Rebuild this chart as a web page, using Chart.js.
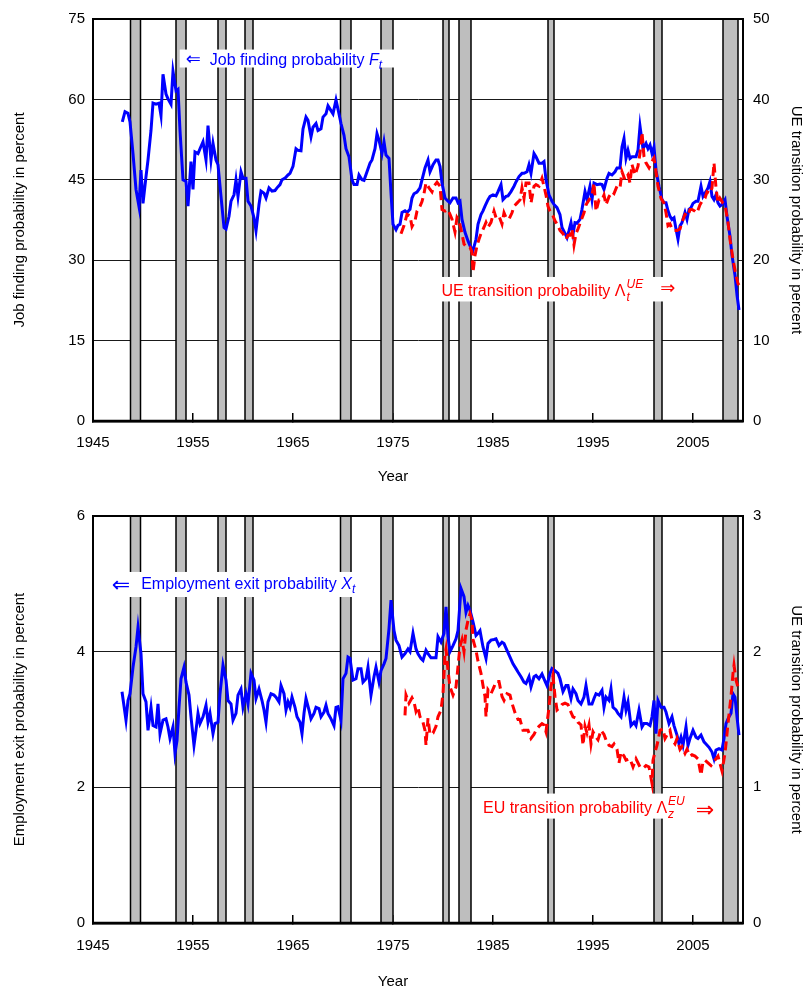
<!DOCTYPE html>
<html>
<head>
<meta charset="utf-8">
<title>Job finding and employment exit probabilities</title>
<script src="https://cdn.jsdelivr.net/npm/chart.js@4.4.1/dist/chart.umd.min.js"></script>
<style>
    html, body { margin: 0; padding: 0; background: #ffffff; }
    canvas { display: block; }
</style>
</head>
<body>
<canvas id="chartJobFinding" width="805" height="496"></canvas>
<canvas id="chartExit" width="805" height="496"></canvas>
<script>
// ========================================
// FLOWS IN AND OUT OF EMPLOYMENT, 1948-2009
// ========================================

// NBER recessions, [start, end] in fractional years
const recessions = [
    [1948.75, 1949.75], [1953.3, 1954.3], [1957.5, 1958.3], [1960.2, 1961.0],
    [1969.75, 1970.8], [1973.8, 1975.0], [1980.0, 1980.6], [1981.6, 1982.8],
    [1990.5, 1991.1], [2001.1, 2001.9], [2008.0, 2009.5]
];

const yearTicks = [1945, 1955, 1965, 1975, 1985, 1995, 2005];

// Job finding probability F_t (percent, left axis)
const jobFinding = [
    [1947.93,55.8],[1948.2,57.7],[1948.5,57.4],[1948.7,55.8],[1949.0,49.9],[1949.3,43.2],[1949.6,40.0],[1949.8,46.8],
    [1950.0,40.6],[1950.3,45.6],[1950.5,48.7],[1950.8,54.2],[1951.0,59.3],[1951.3,59.1],[1951.6,59.3],[1951.8,57.0],
    [1952.0,64.7],[1952.3,61.0],[1952.5,60.1],[1952.8,59.1],[1953.0,65.2],[1953.3,61.6],[1953.5,61.9],[1953.7,54.2],
    [1954.0,45.0],[1954.3,44.7],[1954.5,40.1],[1954.8,48.4],[1955.0,43.2],[1955.2,50.2],[1955.5,49.9],[1955.7,50.8],
    [1956.0,52.1],[1956.3,48.7],[1956.5,55.1],[1956.8,48.7],[1957.0,51.8],[1957.3,48.7],[1957.5,47.8],[1957.8,41.9],
    [1958.1,36.1],[1958.3,35.8],[1958.6,38.2],[1958.8,41.0],[1959.1,42.2],[1959.3,45.0],[1959.5,41.9],[1959.8,46.5],
    [1960.0,45.3],[1960.3,45.3],[1960.5,41.0],[1960.8,40.1],[1961.1,37.9],[1961.3,35.5],[1961.6,40.4],[1961.8,42.9],
    [1962.1,42.5],[1962.3,41.6],[1962.6,43.5],[1962.9,42.9],[1963.2,43.0],[1963.4,43.5],[1963.7,44.1],[1963.9,45.0],
    [1964.2,45.3],[1964.5,45.9],[1964.7,46.2],[1965.0,47.5],[1965.3,50.8],[1965.5,50.5],[1965.8,50.4],[1966.0,54.5],
    [1966.3,56.7],[1966.5,56.1],[1966.8,53.0],[1967.0,54.8],[1967.3,55.5],[1967.5,54.2],[1967.8,54.5],[1968.0,56.7],
    [1968.3,57.3],[1968.5,58.8],[1968.8,57.9],[1969.0,57.3],[1969.3,59.9],[1969.6,57.3],[1969.8,55.5],[1970.1,53.3],
    [1970.3,50.8],[1970.6,49.3],[1970.9,45.0],[1971.1,44.1],[1971.4,44.1],[1971.6,45.9],[1971.9,45.0],[1972.1,44.9],
    [1972.4,46.5],[1972.7,48.1],[1972.9,48.7],[1973.2,50.8],[1973.4,53.6],[1973.6,52.4],[1973.9,49.9],[1974.1,52.1],
    [1974.3,49.6],[1974.6,49.0],[1974.8,42.5],[1975.0,36.7],[1975.3,35.7],[1975.5,36.5],[1975.7,36.7],[1975.9,38.9],
    [1976.2,39.2],[1976.4,38.9],[1976.7,39.5],[1976.9,41.6],[1977.1,42.4],[1977.4,42.7],[1977.7,43.5],[1977.9,45.0],
    [1978.2,47.2],[1978.5,48.7],[1978.7,46.5],[1979.0,47.8],[1979.3,48.7],[1979.5,48.7],[1979.7,47.5],[1979.9,44.4],
    [1980.2,41.6],[1980.5,41.0],[1980.7,40.7],[1981.0,41.6],[1981.3,41.6],[1981.5,40.7],[1981.7,41.0],[1981.9,37.6],
    [1982.2,35.2],[1982.5,33.6],[1982.7,32.7],[1983.0,31.8],[1983.3,33.9],[1983.5,36.7],[1983.8,38.5],[1984.0,39.2],
    [1984.2,40.1],[1984.5,41.3],[1984.7,41.9],[1985.0,42.2],[1985.3,42.0],[1985.5,42.8],[1985.8,44.1],[1986.0,41.3],
    [1986.3,41.9],[1986.5,42.0],[1986.8,42.8],[1987.1,43.8],[1987.3,44.6],[1987.6,45.6],[1987.9,46.2],[1988.1,46.2],
    [1988.4,46.5],[1988.6,47.8],[1988.8,46.2],[1989.1,49.9],[1989.3,49.3],[1989.6,48.1],[1989.9,48.1],[1990.1,48.4],
    [1990.3,45.0],[1990.6,42.2],[1990.9,41.0],[1991.1,40.4],[1991.4,39.8],[1991.7,38.5],[1991.9,36.1],[1992.2,35.0],
    [1992.4,34.2],[1992.6,35.5],[1992.8,37.0],[1993.0,34.9],[1993.2,37.0],[1993.4,36.9],[1993.7,37.6],[1993.9,39.5],
    [1994.2,42.8],[1994.4,41.3],[1994.7,43.8],[1994.9,41.3],[1995.1,44.4],[1995.4,44.1],[1995.7,44.2],[1995.9,44.1],
    [1996.1,43.2],[1996.4,45.3],[1996.6,46.2],[1996.9,45.9],[1997.2,46.5],[1997.4,47.2],[1997.7,47.2],[1997.9,51.1],
    [1998.1,52.7],[1998.3,49.0],[1998.5,50.5],[1998.7,49.0],[1998.9,49.3],[1999.3,49.3],[1999.5,50.5],[1999.7,55.0],
    [2000.0,50.8],[2000.3,51.8],[2000.5,50.8],[2000.7,51.5],[2000.9,49.9],[2001.1,51.1],[2001.3,46.8],[2001.6,43.8],
    [2001.9,41.3],[2002.1,40.7],[2002.3,40.7],[2002.5,39.2],[2002.7,38.2],[2002.9,37.6],[2003.1,37.9],[2003.3,35.8],
    [2003.5,33.9],[2003.7,36.4],[2003.9,37.0],[2004.2,38.9],[2004.4,37.6],[2004.6,39.5],[2004.8,39.8],[2005.0,40.6],
    [2005.3,41.0],[2005.5,41.0],[2005.8,43.8],[2006.0,41.9],[2006.3,42.8],[2006.5,43.5],[2006.7,44.7],[2006.9,41.9],
    [2007.1,41.3],[2007.3,42.2],[2007.5,40.7],[2007.7,40.1],[2007.9,40.4],[2008.2,41.3],[2008.4,38.2],[2008.7,34.5],
    [2008.9,30.9],[2009.2,27.2],[2009.4,23.5],[2009.6,20.7]
];

// UE transition probability (percent, right axis)
const ueTransition = [
    [1975.8,23.3],[1976.1,24.3],[1976.4,25.7],[1976.7,25.5],[1976.9,24.2],[1977.2,24.9],[1977.4,26.1],[1977.7,26.7],
    [1977.9,27.3],[1978.1,28.3],[1978.3,29.6],[1978.6,29.0],[1978.9,28.5],[1979.1,29.2],[1979.4,29.7],[1979.7,29.2],
    [1979.9,26.3],[1980.2,26.1],[1980.5,26.3],[1980.7,25.7],[1980.9,25.1],[1981.2,23.5],[1981.4,25.3],[1981.6,24.9],
    [1981.9,23.3],[1982.1,22.0],[1982.4,21.6],[1982.7,21.6],[1982.9,21.0],[1983.0,18.5],[1983.2,20.6],[1983.4,21.8],
    [1983.6,22.6],[1983.8,23.3],[1984.1,24.1],[1984.3,24.7],[1984.5,24.1],[1984.8,24.7],[1985.1,26.1],[1985.3,25.3],
    [1985.6,25.5],[1985.9,24.5],[1986.1,25.9],[1986.3,25.3],[1986.6,25.1],[1986.9,25.9],[1987.1,26.7],[1987.4,27.1],
    [1987.7,27.5],[1987.9,29.0],[1988.1,27.7],[1988.3,29.6],[1988.6,29.6],[1988.8,27.1],[1989.1,29.2],[1989.3,29.4],
    [1989.6,29.2],[1989.9,30.2],[1990.1,29.2],[1990.3,28.1],[1990.5,26.7],[1990.7,26.1],[1991.0,25.5],[1991.2,24.9],
    [1991.5,24.3],[1991.7,23.7],[1992.0,23.3],[1992.3,22.6],[1992.5,23.1],[1992.7,23.1],[1992.9,23.9],[1993.1,21.9],
    [1993.3,23.3],[1993.5,23.9],[1993.8,24.9],[1994.1,25.9],[1994.3,26.9],[1994.6,27.5],[1994.9,28.1],[1995.1,29.6],
    [1995.3,26.1],[1995.6,27.5],[1995.9,27.5],[1996.1,28.1],[1996.3,26.9],[1996.6,27.9],[1996.9,28.5],[1997.1,28.3],
    [1997.4,29.2],[1997.7,29.0],[1997.9,31.0],[1998.2,30.0],[1998.5,30.6],[1998.7,29.6],[1998.9,31.9],[1999.2,30.6],
    [1999.5,31.7],[1999.7,33.3],[1999.9,35.9],[2000.1,32.9],[2000.3,32.1],[2000.6,31.5],[2000.9,32.3],[2001.1,32.7],
    [2001.3,31.0],[2001.5,29.2],[2001.8,27.7],[2002.1,27.1],[2002.3,25.9],[2002.5,24.3],[2002.7,24.5],[2002.9,23.9],
    [2003.1,23.7],[2003.4,23.7],[2003.7,23.9],[2003.9,24.7],[2004.2,25.7],[2004.5,25.5],[2004.7,26.3],[2004.9,26.3],
    [2005.2,26.1],[2005.4,25.9],[2005.7,26.9],[2005.9,27.3],[2006.2,27.7],[2006.4,28.5],[2006.7,28.3],[2006.9,29.0],
    [2007.1,32.1],[2007.3,29.0],[2007.5,27.1],[2007.7,27.7],[2008.0,27.1],[2008.2,26.9],[2008.5,24.7],[2008.7,22.6],
    [2009.0,20.1],[2009.3,18.1],[2009.5,17.1],[2009.6,16.9]
];

// Employment exit probability X_t (percent, left axis)
const employmentExit = [
    [1947.9,3.41],[1948.3,2.99],[1948.5,3.28],[1948.7,3.38],[1949.0,3.77],[1949.3,4.07],[1949.5,4.36],[1949.8,3.97],
    [1950.0,3.38],[1950.3,3.26],[1950.5,2.84],[1950.8,3.18],[1951.0,2.91],[1951.3,2.89],[1951.5,3.23],[1951.7,2.79],
    [1952.0,2.99],[1952.3,3.01],[1952.5,2.89],[1952.7,2.72],[1953.0,2.89],[1953.2,2.50],[1953.4,2.69],[1953.6,3.18],
    [1953.8,3.60],[1954.1,3.77],[1954.3,3.55],[1954.6,3.36],[1954.8,3.04],[1955.1,2.62],[1955.3,2.84],[1955.5,3.09],
    [1955.7,2.94],[1956.0,3.04],[1956.3,3.21],[1956.5,2.96],[1956.7,3.09],[1957.0,2.79],[1957.2,2.94],[1957.5,2.96],
    [1957.7,3.38],[1958.0,3.80],[1958.3,3.58],[1958.5,3.28],[1958.8,3.23],[1959.0,2.99],[1959.3,3.09],[1959.5,3.36],
    [1959.8,3.45],[1960.0,3.18],[1960.3,3.38],[1960.5,3.23],[1960.8,3.68],[1961.1,3.58],[1961.3,3.31],[1961.6,3.45],
    [1961.9,3.28],[1962.1,3.14],[1962.3,2.96],[1962.5,3.26],[1962.8,3.38],[1963.1,3.36],[1963.3,3.33],[1963.6,3.26],
    [1963.8,3.50],[1964.1,3.38],[1964.3,3.14],[1964.5,3.26],[1964.7,3.18],[1964.9,3.33],[1965.2,3.18],[1965.4,3.04],
    [1965.7,2.96],[1965.9,2.79],[1966.1,3.09],[1966.3,3.31],[1966.6,3.14],[1966.8,3.01],[1967.1,3.09],[1967.3,3.18],
    [1967.6,3.16],[1967.8,3.04],[1968.1,3.11],[1968.3,3.21],[1968.5,3.09],[1968.8,3.01],[1969.1,2.91],[1969.3,3.18],
    [1969.5,3.19],[1969.8,2.99],[1970.0,3.60],[1970.3,3.68],[1970.5,3.92],[1970.7,3.90],[1971.0,3.58],[1971.3,3.60],
    [1971.5,3.75],[1971.8,3.75],[1972.0,3.55],[1972.3,3.60],[1972.5,3.77],[1972.8,3.36],[1973.1,3.63],[1973.3,3.77],
    [1973.6,3.55],[1973.8,3.72],[1974.1,3.82],[1974.3,3.90],[1974.6,4.34],[1974.8,4.76],[1975.1,4.31],[1975.3,4.17],
    [1975.6,4.09],[1975.9,3.92],[1976.2,3.97],[1976.5,4.04],[1976.7,4.00],[1977.0,4.27],[1977.3,4.04],[1977.5,3.97],
    [1977.8,3.90],[1978.0,3.87],[1978.3,4.02],[1978.5,3.97],[1978.8,3.91],[1979.1,3.91],[1979.3,3.91],[1979.5,4.22],
    [1979.8,4.14],[1980.1,4.27],[1980.3,4.66],[1980.5,4.22],[1980.7,4.00],[1981.0,4.09],[1981.3,4.19],[1981.5,4.31],
    [1981.8,4.93],[1982.1,4.81],[1982.3,4.58],[1982.5,4.68],[1982.7,4.61],[1983.0,4.44],[1983.3,4.24],[1983.5,4.27],
    [1983.7,4.31],[1984.0,4.07],[1984.3,3.90],[1984.5,4.12],[1984.8,4.17],[1985.1,4.18],[1985.3,4.19],[1985.6,4.09],
    [1985.9,4.14],[1986.1,4.12],[1986.4,4.02],[1986.7,3.92],[1987.0,3.82],[1987.3,3.75],[1987.5,3.70],[1987.8,3.63],
    [1988.1,3.55],[1988.3,3.53],[1988.6,3.63],[1988.8,3.48],[1989.1,3.63],[1989.3,3.65],[1989.6,3.60],[1989.9,3.67],
    [1990.1,3.60],[1990.4,3.50],[1990.7,3.68],[1990.9,3.75],[1991.2,3.72],[1991.5,3.68],[1991.7,3.60],[1992.0,3.41],
    [1992.3,3.50],[1992.5,3.50],[1992.8,3.31],[1993.0,3.45],[1993.3,3.38],[1993.5,3.28],[1993.8,3.23],[1994.1,3.33],
    [1994.3,3.50],[1994.6,3.23],[1994.9,3.23],[1995.1,3.31],[1995.3,3.38],[1995.6,3.36],[1995.9,3.43],[1996.1,3.18],
    [1996.3,3.33],[1996.6,3.28],[1996.8,3.45],[1997.0,3.18],[1997.3,3.14],[1997.5,3.09],[1997.8,3.04],[1998.1,3.33],
    [1998.3,3.14],[1998.5,3.26],[1998.8,2.91],[1999.1,2.96],[1999.3,2.91],[1999.6,3.14],[1999.9,2.89],[2000.1,2.94],
    [2000.4,2.94],[2000.7,2.91],[2000.9,3.04],[2001.1,3.28],[2001.3,2.79],[2001.5,3.28],[2001.8,3.18],[2002.1,3.18],
    [2002.3,3.11],[2002.6,2.94],[2002.9,3.04],[2003.1,2.91],[2003.4,2.77],[2003.6,2.64],[2003.8,2.74],[2004.0,2.62],
    [2004.3,2.89],[2004.5,2.62],[2004.7,2.72],[2005.0,2.84],[2005.3,2.74],[2005.5,2.72],[2005.8,2.77],[2006.1,2.67],
    [2006.3,2.64],[2006.6,2.59],[2006.9,2.52],[2007.1,2.42],[2007.3,2.55],[2007.6,2.57],[2007.9,2.55],[2008.1,2.72],
    [2008.3,2.94],[2008.5,3.01],[2008.8,3.09],[2009.0,3.38],[2009.2,3.33],[2009.4,3.04],[2009.6,2.77]
];

// EU transition probability (percent, right axis)
const euTransition = [
    [1976.2,1.53],[1976.3,1.68],[1976.6,1.62],[1976.9,1.66],[1977.1,1.63],[1977.3,1.56],[1977.5,1.59],[1977.7,1.52],
    [1978.0,1.48],[1978.2,1.42],[1978.3,1.31],[1978.5,1.51],[1978.7,1.39],[1979.0,1.40],[1979.3,1.45],[1979.5,1.52],
    [1979.8,1.57],[1980.0,1.69],[1980.2,1.98],[1980.3,2.02],[1980.5,1.86],[1980.7,1.74],[1981.0,1.68],[1981.3,1.74],
    [1981.5,1.89],[1981.7,2.04],[1981.9,2.09],[1982.1,2.00],[1982.3,2.16],[1982.5,2.23],[1982.7,2.28],[1982.9,2.23],
    [1983.0,2.09],[1983.3,2.01],[1983.5,1.93],[1983.8,1.84],[1984.0,1.75],[1984.2,1.67],[1984.3,1.52],[1984.5,1.72],
    [1984.8,1.69],[1985.1,1.74],[1985.3,1.78],[1985.6,1.78],[1985.9,1.67],[1986.1,1.64],[1986.4,1.69],[1986.7,1.68],
    [1986.9,1.62],[1987.2,1.55],[1987.5,1.50],[1987.7,1.50],[1988.0,1.42],[1988.3,1.42],[1988.5,1.42],[1988.8,1.36],
    [1989.1,1.39],[1989.3,1.42],[1989.6,1.45],[1989.9,1.47],[1990.1,1.46],[1990.3,1.41],[1990.6,1.59],[1990.8,1.74],
    [1991.0,1.82],[1991.2,1.67],[1991.4,1.57],[1991.7,1.59],[1991.9,1.61],[1992.2,1.62],[1992.5,1.61],[1992.7,1.57],
    [1993.0,1.52],[1993.3,1.51],[1993.5,1.48],[1993.8,1.46],[1994.0,1.31],[1994.2,1.45],[1994.4,1.40],[1994.6,1.46],
    [1994.8,1.32],[1995.0,1.41],[1995.3,1.37],[1995.5,1.35],[1995.8,1.42],[1996.1,1.39],[1996.3,1.35],[1996.6,1.31],
    [1996.9,1.30],[1997.1,1.32],[1997.4,1.28],[1997.6,1.18],[1997.8,1.26],[1998.1,1.23],[1998.3,1.20],[1998.7,1.21],
    [1999.0,1.15],[1999.3,1.21],[1999.7,1.15],[2000.0,1.14],[2000.3,1.16],[2000.6,1.15],[2000.9,1.03],[2001.0,1.20],
    [2001.2,1.26],[2001.4,1.31],[2001.7,1.42],[2002.0,1.43],[2002.2,1.36],[2002.5,1.40],[2002.7,1.42],[2002.9,1.35],
    [2003.2,1.32],[2003.4,1.36],[2003.7,1.28],[2003.9,1.30],[2004.2,1.25],[2004.4,1.28],[2004.7,1.23],[2004.9,1.24],
    [2005.2,1.23],[2005.5,1.21],[2005.8,1.09],[2006.0,1.19],[2006.2,1.20],[2006.5,1.18],[2006.8,1.16],[2007.2,1.20],
    [2007.5,1.23],[2007.9,1.12],[2008.2,1.25],[2008.3,1.32],[2008.5,1.47],[2008.8,1.67],[2009.0,1.84],[2009.1,1.90],
    [2009.3,1.79],[2009.5,1.74]
];

document.addEventListener('DOMContentLoaded', function() {
    'use strict';

    const FONT = '"Liberation Sans", Arial, Helvetica, sans-serif';
    const ARROW_FONT = '"DejaVu Sans", sans-serif';
    const colors = {
        blue: '#0000ff',
        red: '#ff0000',
        shade: '#bebebe',
        ink: '#000000'
    };

    const toPoints = rows => rows.map(([x, y]) => ({ x, y }));

    // Text made of several runs (italic symbols, sub/superscripts, arrows)
    function drawRichText(ctx, x, baseline, parts, color) {
        let cursor = x;
        ctx.fillStyle = color;
        ctx.textAlign = 'left';
        ctx.textBaseline = 'alphabetic';
        parts.forEach(p => {
            const size = p.size || 16;
            const dy = typeof p.dy === 'number' ? p.dy : 0;
            cursor += p.gap || 0;
            ctx.font = `${p.italic ? 'italic ' : ''}${size}px ${p.family || FONT}`;
            ctx.fillText(p.text, cursor, baseline + dy);
            if (!p.keep) cursor += ctx.measureText(p.text).width;
        });
    }

    // --- shading, label boxes, frame ---
    // labels live in the closure so Chart.js does not wrap them in its option resolver
    function makeDecor(labels, yearOffset) {
        return {
            id: 'panelDecor',
            beforeDatasetsDraw(chart) {
                const { ctx, chartArea: a, scales: { x } } = chart;
                ctx.save();
                ctx.beginPath();
                ctx.rect(a.left, a.top, a.width, a.height);
                ctx.clip();
                ctx.fillStyle = colors.shade;
                ctx.strokeStyle = colors.ink;
                ctx.lineWidth = 1.5;
                recessions.forEach(([start, end]) => {
                    const x0 = x.getPixelForValue(start);
                    const x1 = x.getPixelForValue(end);
                    ctx.fillRect(x0, a.top, x1 - x0, a.height);
                    ctx.beginPath();
                    ctx.moveTo(x0, a.top); ctx.lineTo(x0, a.bottom);
                    ctx.moveTo(x1, a.top); ctx.lineTo(x1, a.bottom);
                    ctx.stroke();
                });
                ctx.restore();
            },
            afterDatasetsDraw(chart) {
                const { ctx, chartArea: a, scales: { x, y } } = chart;
                ctx.save();

                labels.forEach(lbl => {
                    const [bx0, bx1, by0, by1] = lbl.box;
                    const left = x.getPixelForValue(bx0);
                    const right = x.getPixelForValue(bx1);
                    const top = y.getPixelForValue(by0);
                    const bottom = y.getPixelForValue(by1);
                    ctx.fillStyle = '#ffffff';
                    ctx.fillRect(left, top, right - left, bottom - top);
                    drawRichText(ctx, x.getPixelForValue(lbl.at[0]), y.getPixelForValue(lbl.at[1]), lbl.parts, lbl.color);
                });

                // plot frame
                ctx.strokeStyle = colors.ink;
                ctx.lineWidth = 2;
                ctx.strokeRect(a.left, a.top, a.width, a.height);
                ctx.lineWidth = 2.5;
                ctx.beginPath();
                ctx.moveTo(a.left - 1, a.bottom);
                ctx.lineTo(a.right + 1, a.bottom);
                ctx.stroke();

                // x axis title
                ctx.fillStyle = colors.ink;
                ctx.font = `15px ${FONT}`;
                ctx.textAlign = 'center';
                ctx.textBaseline = 'middle';
                ctx.fillText('Year', x.getPixelForValue(1975), a.bottom + yearOffset);
                ctx.restore();
            }
        };
    }

    function buildPanel(canvasId, p) {
        const el = document.getElementById(canvasId);
        if (!el) return;

        new Chart(el.getContext('2d'), {
            type: 'line',
            data: {
                datasets: [{
                    label: p.leftName,
                    data: toPoints(p.leftSeries),
                    yAxisID: 'y',
                    borderColor: colors.blue,
                    borderWidth: 3,
                    pointRadius: 0,
                    fill: false,
                    order: 1
                }, {
                    label: p.rightName,
                    data: toPoints(p.rightSeries),
                    yAxisID: 'y1',
                    borderColor: colors.red,
                    borderWidth: 3,
                    borderDash: [9, 5],
                    pointRadius: 0,
                    fill: false,
                    order: 0
                }]
            },
            options: {
                responsive: false,
                animation: false,
                devicePixelRatio: 1,
                layout: { padding: { top: p.padTop, left: 0, right: 0, bottom: 0 } },
                elements: { line: { tension: 0 } },
                plugins: {
                    legend: { display: false },
                    tooltip: { enabled: false }
                },
                scales: {
                    x: {
                        type: 'linear',
                        min: 1945,
                        max: 2010,
                        afterBuildTicks: s => { s.ticks = yearTicks.map(v => ({ value: v })); },
                        afterFit: s => { s.height = p.xHeight; },
                        grid: { drawOnChartArea: false, drawTicks: true, tickLength: -8, color: colors.ink, lineWidth: 1.5 },
                        border: { display: true, color: colors.ink, width: 2.5 },
                        ticks: {
                            padding: p.xPad,
                            color: colors.ink,
                            autoSkip: false,
                            maxRotation: 0,
                            font: { family: FONT, size: 15 },
                            callback: v => String(v)
                        }
                    },
                    y: {
                        position: 'left',
                        min: 0,
                        max: p.leftMax,
                        afterFit: s => { s.width = 93; },
                        grid: { color: '#1a1a1a', lineWidth: 1, drawTicks: false },
                        border: { display: true, color: colors.ink, width: 2 },
                        ticks: { stepSize: p.leftStep, padding: 8, color: colors.ink, font: { family: FONT, size: 15 } },
                        title: {
                            display: true,
                            text: p.leftTitle,
                            color: colors.ink,
                            padding: { top: 11, bottom: 0 },
                            font: { family: FONT, size: 15 }
                        }
                    },
                    y1: {
                        position: 'right',
                        min: 0,
                        max: p.rightMax,
                        afterFit: s => { s.width = 62; },
                        grid: { drawOnChartArea: false, drawTicks: false },
                        border: { display: true, color: colors.ink, width: 2 },
                        ticks: { stepSize: p.rightStep, padding: 10, color: colors.ink, font: { family: FONT, size: 15 } },
                        title: {
                            display: true,
                            text: p.rightTitle,
                            color: colors.ink,
                            padding: { top: 0, bottom: 0 },
                            font: { family: FONT, size: 15 }
                        }
                    }
                }
            },
            plugins: [makeDecor(p.labels, p.yearOffset)]
        });
    }

    // --- 1. JOB FINDING vs UE TRANSITIONS ---
    buildPanel('chartJobFinding', {
        leftName: 'Job finding probability',
        rightName: 'UE transition probability',
        leftSeries: jobFinding,
        rightSeries: ueTransition,
        leftMax: 75, leftStep: 15,
        rightMax: 50, rightStep: 10,
        leftTitle: 'Job finding probability in percent',
        rightTitle: 'UE transition probability in percent',
        padTop: 14, xHeight: 75, xPad: 21, yearOffset: 56,
        labels: [{
            box: [1953.67, 1975.2, 69.3, 65.95],
            at: [1954.27, 66.5],
            color: colors.blue,
            parts: [
                { text: '\u21D0', size: 18, family: ARROW_FONT, dy: 0 },
                { text: 'Job finding probability ', gap: 9 },
                { text: 'F', italic: true },
                { text: 't', italic: true, size: 12, dy: 4 }
            ]
        }, {
            box: [1979.67, 2003.7, 26.87, 22.3],
            at: [1979.84, 23.36],
            color: colors.red,
            parts: [
                { text: 'UE transition probability ' },
                { text: '\u039B' },
                { text: 't', italic: true, size: 12, dy: 5, keep: true, gap: 1 },
                { text: 'UE', italic: true, size: 12, dy: -8 },
                { text: '\u21D2', size: 18, family: ARROW_FONT, gap: 17, dy: -2 }
            ]
        }]
    });

    // --- 2. EMPLOYMENT EXIT vs EU TRANSITIONS ---
    buildPanel('chartExit', {
        leftName: 'Employment exit probability',
        rightName: 'EU transition probability',
        leftSeries: employmentExit,
        rightSeries: euTransition,
        leftMax: 6, leftStep: 2,
        rightMax: 3, rightStep: 1,
        leftTitle: 'Employment exit probability in percent',
        rightTitle: 'UE transition probability in percent',
        padTop: 20, xHeight: 69, xPad: 22, yearOffset: 59,
        labels: [{
            box: [1946.67, 1971.67, 5.175, 4.806],
            at: [1946.87, 4.93],
            color: colors.blue,
            parts: [
                { text: '\u21D0', size: 22, family: ARROW_FONT, dy: 3 },
                { text: 'Employment exit probability ', gap: 11 },
                { text: 'X', italic: true },
                { text: 't', italic: true, size: 12, dy: 4 }
            ]
        }, {
            box: [1983.84, 2007.67, 1.908, 1.539],
            at: [1984.0, 1.628],
            color: colors.red,
            parts: [
                { text: 'EU transition probability ' },
                { text: '\u039B' },
                { text: 'z', italic: true, size: 12, dy: 5, keep: true, gap: 1 },
                { text: 'EU', italic: true, size: 12, dy: -8 },
                { text: '\u21D2', size: 22, family: ARROW_FONT, gap: 11, dy: 4 }
            ]
        }]
    });
});
</script>
</body>
</html>
